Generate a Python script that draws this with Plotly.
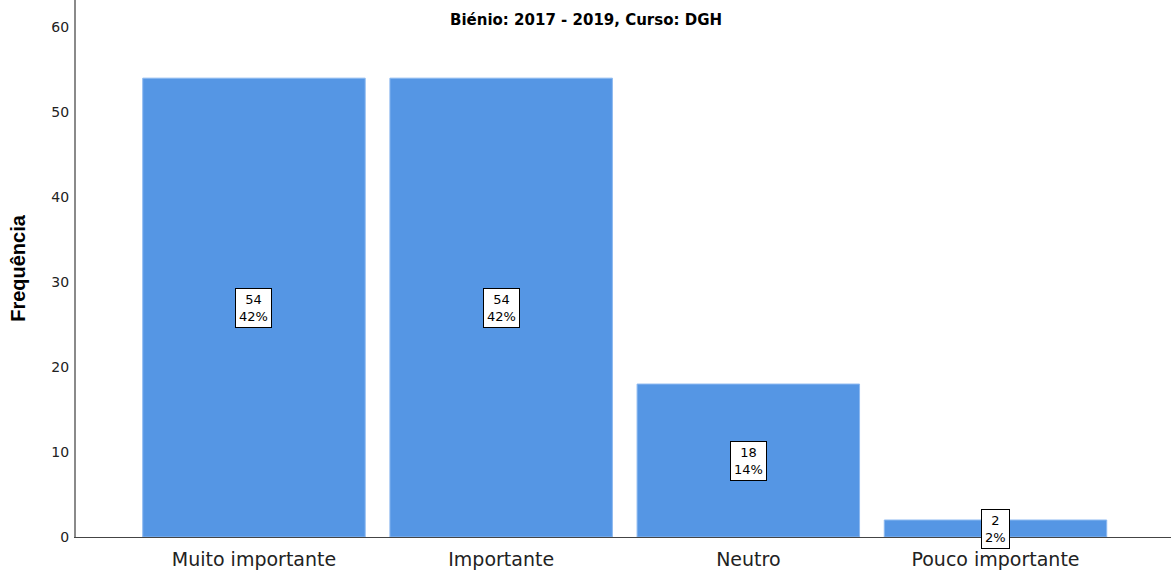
import plotly.graph_objects as go

categories = ["Muito importante", "Importante", "Neutro", "Pouco importante"]
counts = [54, 54, 18, 2]
percents = ["42%", "42%", "14%", "2%"]
title_text = "Biénio: 2017 - 2019, Curso: DGH"
y_ticks = [0, 10, 20, 30, 40, 50, 60]

fig = go.Figure()
fig.add_trace(go.Bar(
    x=list(range(len(categories))),
    y=counts,
    width=0.9,
    marker=dict(color="rgb(85,150,228)", line=dict(color="rgb(140,185,240)", width=1)),
    hoverinfo="skip",
))

for i, (c, p) in enumerate(zip(counts, percents)):
    fig.add_annotation(
        x=i, y=c / 2, xref="x", yref="y",
        text=f"{c}<br>{p}", showarrow=False,
        font=dict(family="DejaVu Sans", size=13, color="black"),
        bgcolor="white", bordercolor="black", borderwidth=1, borderpad=3,
    )

fig.add_annotation(
    x=(586 - 76) / (1171 - 76), y=1 - 20 / 537, xref="paper", yref="paper",
    xanchor="center", yanchor="middle",
    text=f"<b>{title_text}</b>", showarrow=False,
    font=dict(family="DejaVu Sans", size=15, color="black"),
)

fig.update_layout(
    width=1171, height=575,
    margin=dict(l=76, r=0, t=0, b=38),
    paper_bgcolor="white", plot_bgcolor="white",
    showlegend=False,
    font=dict(family="Liberation Sans, Arial", color="black"),
)
fig.update_xaxes(
    tickmode="array", tickvals=list(range(len(categories))), ticktext=categories,
    range=[-0.72, 3.71], showgrid=False, zeroline=False, automargin=False,
    showline=True, linecolor="#444", linewidth=1, ticklabelstandoff=5,
    tickfont=dict(family="DejaVu Sans", size=19, color="#222"), ticks="",
)
fig.update_yaxes(
    range=[0, 63.2], tickvals=y_ticks, showgrid=False, zeroline=False, automargin=False,
    showline=True, linecolor="#8a8a8a", linewidth=2, ticks="", ticklabelstandoff=2,
    tickfont=dict(family="DejaVu Sans", size=14, color="#222"),
    title=dict(text="<b>Frequência</b>", font=dict(size=20, color="black"), standoff=20),
)

fig.write_html("out.html", config={"displayModeBar": False},
               post_script="document.body.style.margin='0px';")
